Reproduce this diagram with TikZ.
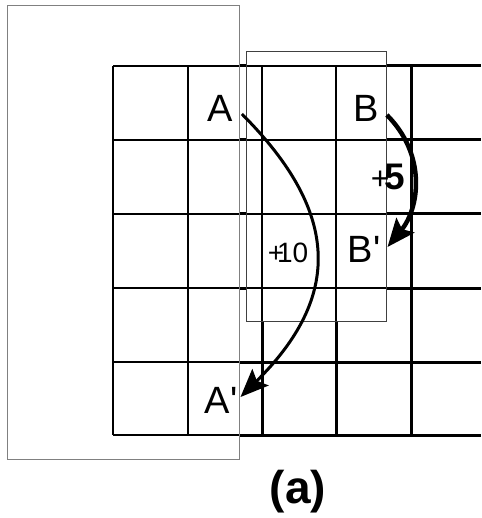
\documentclass[tikz,border=0pt]{standalone}
\usepackage{fontspec}
\setmainfont{Liberation Sans}
\usetikzlibrary{arrows.meta}

\begin{document}
\begin{tikzpicture}[x=1pt,y=-1pt,
  letter/.style={font=\fontsize{38}{40}\selectfont,inner sep=3pt},
  shiftlbl/.style={font=\fontsize{28}{30}\selectfont,inner sep=1pt},
  gridthin/.style={line width=1.4pt},
  gridthick/.style={line width=3pt},
  move/.style={-{Stealth[length=28pt,width=23pt,inset=5pt]},line width=3pt}]
\useasboundingbox (0,0) rectangle (481,518);

% grid, thin inside the two frames, heavy outside
\foreach \y in {66,140,214,288,362,435}
  \draw[gridthin] (113,\y) -- (481,\y);
\foreach \x in {113,188,262,336,411}
  \draw[gridthin] (\x,66) -- (\x,435);
\begin{scope}[even odd rule]
\clip (0,0) rectangle (481,518)
  (7,6) rectangle (239,459) (246,51) rectangle (386,321);
\foreach \y in {66,140,214,288,362,435}
  \draw[gridthick] (113,\y) -- (481,\y);
\foreach \x in {113,188,262,336,411}
  \draw[gridthick] (\x,66) -- (\x,435);
\end{scope}

% the two frames
\draw[gray,line width=1pt] (7,6) rectangle (239,459);
\draw[black!75,line width=0.9pt] (246,51) rectangle (386,321);

% cell labels
\node[letter] (A) at (220,108) {A};
\node[letter] (B) at (366,108) {B};
\node[letter] (Bp) at (364,249) {B\textquotesingle};
\node[letter] (Ap) at (221,400) {A\textquotesingle};

% moves
\draw[move] ([xshift=6pt,yshift=-6pt]A.east)
  .. controls +(100,100) and +(100,-99) .. ([yshift=3pt]Ap.east);
\draw[move,line width=4.5pt] ([xshift=5pt,yshift=-7pt]B.east)
  .. controls +(40,40) and +(32,-39) .. ([xshift=4pt,yshift=2pt]Bp.east);
\node[shiftlbl,font=\fontsize{32}{34}\selectfont] (plusfive) at (388,177)
  {+\kern-5pt{\fontsize{37}{38}\selectfont\bfseries 5}};
\node[shiftlbl] (plusten) at (288,253) {+\kern-7pt10};

\node[font=\fontsize{46}{48}\selectfont\bfseries] (caption) at (298,492) {(a)};
\end{tikzpicture}
\end{document}
